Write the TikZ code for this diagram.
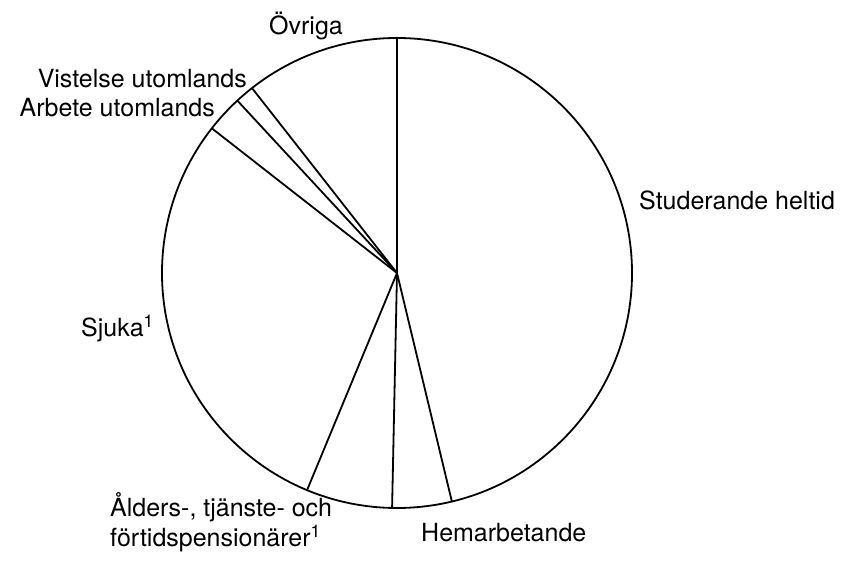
\documentclass[tikz,border=0pt]{standalone}
\usepackage{fontspec}
\setmainfont{TeX Gyre Heros}
\usepackage{tikz}

\begin{document}
\begin{tikzpicture}[x=1pt,y=1pt,
		pie/.style={black, line width=1.8pt},
		lbl/.style={inner sep=0pt, font=\fontsize{25}{30}\selectfont}]
		\useasboundingbox (0,0) rectangle (845,563);
		\coordinate (c) at (397,290);

		\draw[pie] (c) circle (235);
		\foreach \a in {90,-76.5,-91.2,-112.5,142,132.8,128.1}
			\draw[pie] (c) -- ++(\a:235);

		\node[lbl, anchor=base west] (ovriga) at (269,528.7) {Övriga};
		\node[lbl, anchor=base east] (vistelse) at (247,475.7) {Vistelse utomlands};
		\node[lbl, anchor=base east] (arbete) at (215,446.3) {Arbete utomlands};
		\node[lbl, anchor=base west] (studerande) at (639,353.7) {Studerande heltid};
		\node[lbl, anchor=base west] (sjuka) at (81,226.3) {Sjuka\textsuperscript{1}};
		\node[lbl, anchor=base west] (alders) at (110,46.3) {Ålders-, tjänste- och};
		\node[lbl, anchor=base west] (pension) at (110,16.3) {förtidspensionärer\textsuperscript{1}};
		\node[lbl, anchor=base west] (hemarb) at (421,21.3) {Hemarbetande};
	\end{tikzpicture}
\end{document}
